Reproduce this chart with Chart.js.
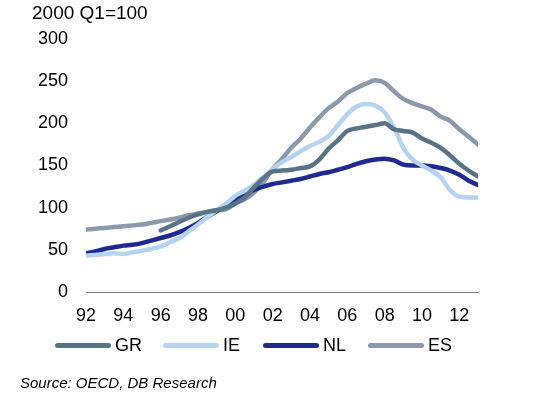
<!DOCTYPE html>
<html>
<head>
<meta charset="utf-8">
<script src="https://cdn.jsdelivr.net/npm/chart.js@4.4.1/dist/chart.umd.min.js"></script>
<style>
  body { margin: 0; background: #fff; }
  #wrap { position: relative; width: 537px; height: 395px; font-family: "Liberation Sans", Arial, sans-serif; color: #000; }
  #myChart { position: absolute; left: 0; top: 0; }
  .titulo { position: absolute; left: 32px; top: 3px; font-size: 19px; line-height: 19px; }
  .fonte { position: absolute; left: 20px; top: 375px; font-size: 15px; line-height: 15px; font-style: italic; }
  .leg { position: absolute; top: 336px; height: 18px; font-size: 18px; line-height: 18px; }
  .leg span.linha { position: absolute; top: 7px; height: 5px; border-radius: 3px; }
  .leg span.txt { position: absolute; top: 0; }
</style>
</head>
<body>
<div id="wrap">
  <canvas id="myChart" width="537" height="395"></canvas>
  <div class="titulo">2000 Q1=100</div>
  <div id="legenda"></div>
  <div class="fonte">Source: OECD, DB Research</div>
</div>
<script>
// half-year steps, 1992 to 2013
const anos = [1992, 1992.5, 1993, 1993.5, 1994, 1994.5, 1995, 1995.5, 1996, 1996.5,
    1997, 1997.5, 1998, 1998.5, 1999, 1999.5, 2000, 2000.5, 2001, 2001.5,
    2002, 2002.5, 2003, 2003.5, 2004, 2004.5, 2005, 2005.5, 2006, 2006.5,
    2007, 2007.5, 2008, 2008.5, 2009, 2009.5, 2010, 2010.5, 2011, 2011.5,
    2012, 2012.5, 2013]

const anosTicks = [1992, 1994, 1996, 1998, 2000, 2002, 2004, 2006, 2008, 2010, 2012]
const valoresTicks = [0, 50, 100, 150, 200, 250, 300]

const nomes = ['GR', 'IE', 'NL', 'ES']
const cores = ['#587385', '#b4d3f1', '#1f2a8e', '#8a9aad']

const dadosGR = [null, null, null, null, null, null, null, null, 73, 78,
    83, 88, 92, 95, 97, 100, 105, 112, 124, 135,
    143, 144, 145, 147, 149, 157, 170, 180, 191, 194,
    196, 198, 200, 193, 191, 189, 182, 177, 171, 162,
    152, 144, 137]

const dadosIE = [43, 44, 45, 46, 45, 47, 49, 51, 54, 59,
    64, 72, 80, 89, 97, 105, 114, 120, 127, 136,
    146, 154, 160, 167, 173, 178, 185, 198, 211, 220,
    223, 221, 213, 195, 171, 157, 150, 144, 136, 121,
    113, 112, 112]

const dadosNL = [46, 48, 51, 53, 55, 56, 58, 61, 64, 67,
    71, 76, 82, 89, 96, 103, 109, 116, 121, 125,
    128, 130, 132, 134, 137, 140, 142, 145, 148, 152,
    155, 157, 158, 156, 151, 150, 150, 149, 147, 144,
    139, 132, 127]

const dadosES = [74, 75, 76, 77, 78, 79, 80, 82, 84, 86,
    88, 91, 93, 95, 97, 98, 105, 110, 118, 130,
    146, 158, 171, 182, 195, 207, 218, 226, 236, 242,
    247, 251, 248, 238, 229, 224, 220, 216, 208, 203,
    193, 184, 175]

const series = [dadosGR, dadosIE, dadosNL, dadosES]

function montarPontos(valores) {
    const pontos = []
    valores.forEach((v, i) => {
        if (v !== null) pontos.push({ x: anos[i], y: v })
    })
    return pontos
}

// legenda feita a mao
const legPos = [55, 163, 263, 368]
const legenda = document.getElementById('legenda')
nomes.forEach((nome, i) => {
    legenda.innerHTML += `<div class="leg" style="left:${legPos[i]}px">
        <span class="linha" style="left:0;width:56px;background:${cores[i]}"></span>
        <span class="txt" style="left:60px">${nome}</span></div>`
})

const ctx = document.getElementById('myChart').getContext('2d')
const fonte = { family: '"Liberation Sans", Arial, sans-serif', size: 18 }

const myChart = new Chart(ctx, {
    type: 'line',
    data: {
        datasets: series.map((s, i) => ({
            label: nomes[i],
            data: montarPontos(s),
            borderColor: cores[i],
            backgroundColor: cores[i],
            borderWidth: 4.5,
            pointRadius: 0,
            borderCapStyle: 'round',
            borderJoinStyle: 'round',
            cubicInterpolationMode: 'monotone'
        }))
    },
    options: {
        responsive: false,
        animation: false,
        devicePixelRatio: 1,
        layout: { padding: { left: 0, right: 59, top: 39, bottom: 0 } },
        plugins: {
            legend: { display: false },
            tooltip: { enabled: false }
        },
        scales: {
            x: {
                type: 'linear',
                min: 1992,
                max: 2013,
                afterFit: scale => { scale.height = 103 },
                afterBuildTicks: scale => {
                    scale.ticks = anosTicks.map(a => ({ value: a }))
                },
                grid: { display: false, drawTicks: false },
                border: { display: true, color: '#7f7f7f', width: 1 },
                ticks: {
                    padding: 13,
                    color: '#000',
                    font: fonte,
                    maxRotation: 0,
                    autoSkip: false,
                    callback: v => String(v % 100).padStart(2, '0')
                }
            },
            y: {
                min: 0,
                max: 300,
                afterFit: scale => { scale.width = 86 },
                afterBuildTicks: scale => {
                    scale.ticks = valoresTicks.map(v => ({ value: v }))
                },
                grid: { display: false, drawTicks: false },
                border: { display: false },
                ticks: {
                    padding: 18,
                    color: '#000',
                    font: fonte
                }
            }
        }
    }
})
</script>
</body>
</html>
